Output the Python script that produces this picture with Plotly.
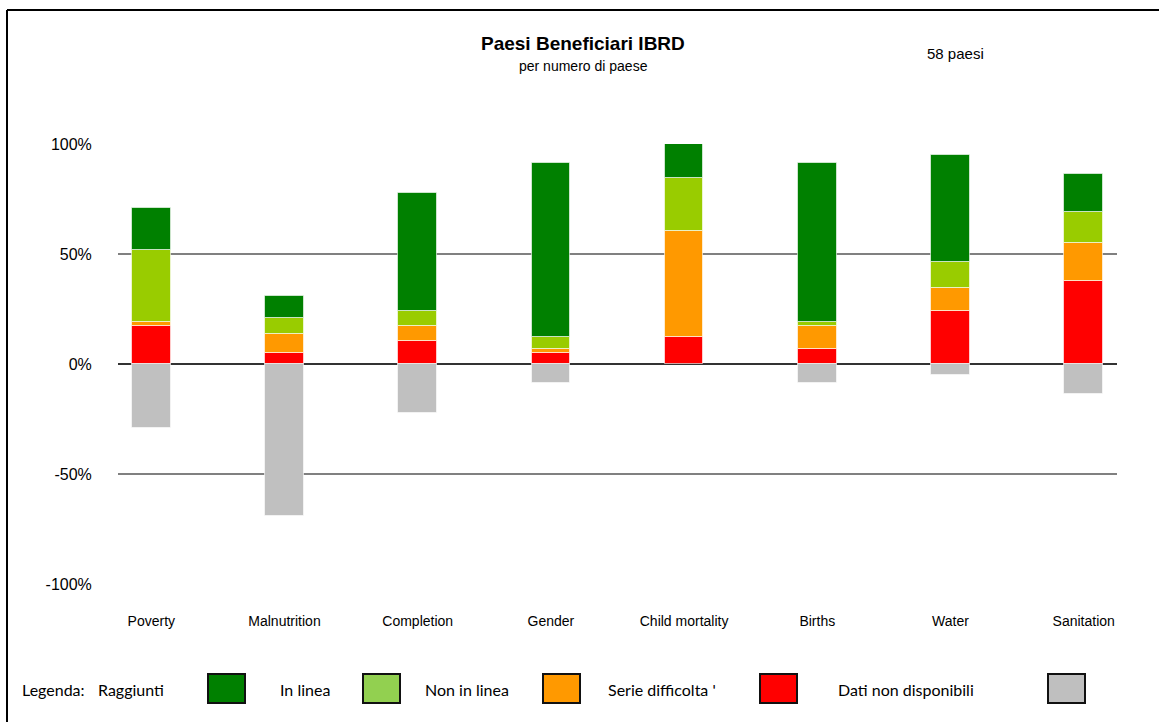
import plotly.graph_objects as go

# Data: number of countries per category (58 IBRD countries in total)
total = 58
categories = ['Poverty', 'Malnutrition', 'Completion', 'Gender',
              'Child mortality', 'Births', 'Water', 'Sanitation']
dati_non_disp = [10, 3, 6, 3, 7, 4, 14, 22]      # red
serie_diff = [1, 5, 4, 1, 28, 6, 6, 10]           # orange
non_in_linea = [19, 4, 4, 3, 14, 1, 7, 8]         # light green
in_linea = [11, 6, 31, 46, 9, 42, 28, 10]         # green
raggiunti = [-17, -40, -13, -5, 0, -5, -3, -8]    # gray (below zero)

y_ticks = [-100, -50, 0, 50, 100]
y_tick_text = ['-100%', '-50%', '0%', '50%', '100%']


def pct(vals):
    return [v / total * 100 for v in vals]


W, H = 1159, 722
L, R, T, B = 118, 1117, 144, 584


def px(x):
    return (x - L) / (R - L)


def py(y):
    return (B - y) / (B - T)


fig = go.Figure()

series = [
    (dati_non_disp, '#FF0000'),
    (serie_diff, '#FF9900'),
    (non_in_linea, '#99CC00'),
    (in_linea, '#008000'),
    (raggiunti, '#C0C0C0'),
]
for vals, col in series:
    fig.add_trace(go.Bar(
        x=categories, y=pct(vals),
        marker=dict(color=col, line=dict(color='rgba(255,255,255,0.6)', width=1)),
        width=0.29, showlegend=False
    ))

# Titles
def label(x, y, text, font, xanchor='center'):
    fig.add_annotation(x=px(x), y=py(y), xref='paper', yref='paper', text=text,
                       showarrow=False, xanchor=xanchor, yanchor='middle', font=font)


label(583, 43, '<b>Paesi Beneficiari IBRD</b>', dict(family='Liberation Sans, Arial', size=19, color='black'))
label(583, 66, 'per numero di paese', dict(family='Liberation Sans, Arial', size=14, color='black'))
label(955, 54, '58 paesi', dict(family='Liberation Sans, Arial', size=15, color='black'))

# Legend row at the bottom
leg_font = dict(family='Lato, Liberation Sans', size=16, color='black')
leg_texts = [(20, 'Legenda:'), (96, 'Raggiunti'), (278, 'In linea'), (423, 'Non in linea'),
             (606, "Serie difficolta '"), (836, 'Dati non disponibili')]
for x0, t in leg_texts:
    label(x0, 689, t, leg_font, xanchor='left')
leg_boxes = [(208, '#008000'), (363, '#92D050'), (543, '#FF9900'), (760, '#FF0000'), (1048, '#BFBFBF')]
for x0, col in leg_boxes:
    fig.add_shape(type='rect', xref='paper', yref='paper',
                  x0=px(x0), x1=px(x0 + 37), y0=py(703), y1=py(674),
                  fillcolor=col, line=dict(color='#111111', width=2))

# Frame lines (top and left)
fig.add_shape(type='line', xref='paper', yref='paper', x0=px(7), x1=px(1165),
              y0=py(10), y1=py(10), line=dict(color='black', width=2))
fig.add_shape(type='line', xref='paper', yref='paper', x0=px(7), x1=px(7),
              y0=py(10), y1=py(730), line=dict(color='black', width=2))

fig.update_layout(
    width=W, height=H,
    margin=dict(l=L, r=W - R, t=T, b=H - B),
    barmode='relative', bargap=0,
    plot_bgcolor='white', paper_bgcolor='white',
    font=dict(family='Liberation Sans, Arial', color='black'),
    showlegend=False,
)
fig.update_xaxes(range=[-0.25, 7.25], showgrid=False, zeroline=False, showline=False,
                 ticks='outside', ticklen=24, tickcolor='rgba(0,0,0,0)',
                 tickfont=dict(size=14), fixedrange=True)
fig.update_yaxes(range=[-100, 100], tickvals=y_ticks, ticktext=y_tick_text,
                 showgrid=True, gridcolor='#808080', gridwidth=2,
                 zeroline=True, zerolinecolor='#333333', zerolinewidth=2,
                 ticks='outside', ticklen=22, tickcolor='rgba(0,0,0,0)',
                 tickfont=dict(size=16), fixedrange=True)

fig.write_html('out.html', config={'displayModeBar': False},
               post_script="document.body.style.margin='0';")
